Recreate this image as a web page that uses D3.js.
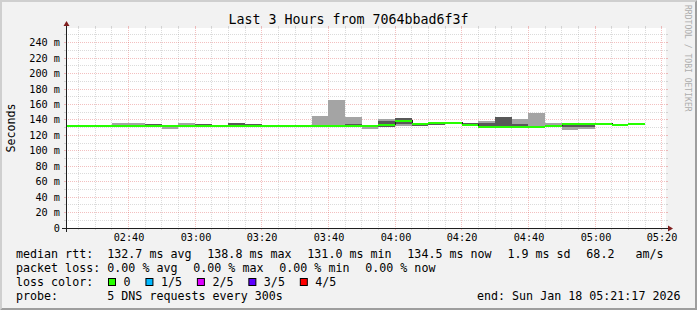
<!DOCTYPE html>
<html><head><meta charset="utf-8">
<script src="https://cdn.jsdelivr.net/npm/d3@7"></script>
<style>
body{margin:0;background:#f2f2f2}
svg{display:block}
text{font-family:"DejaVu Sans Mono",monospace;fill:#000}
</style>
</head><body>
<svg id="c" width="697" height="310"></svg>
<script>
// ---------- data ----------
const stepStarts = ["02:20","02:25","02:30","02:35","02:40","02:45","02:50","02:55","03:00","03:05",
  "03:10","03:15","03:20","03:25","03:30","03:35","03:40","03:45","03:50","03:55",
  "04:00","04:05","04:10","04:15","04:20","04:25","04:30","04:35","04:40","04:45",
  "04:50","04:55","05:00","05:05","05:10"];
// sorted ping round-trip times per 5-min step (ms)
const ping1  = [131.2,131.2,131.2,131.0,131.0,131.2,128.1,131.0,131.2,131.2,
  131.2,131.2,131.2,131.2,131.2,131.0,131.0,131.0,128.2,131.0,
  132.3,131.9,133.0,135.2,131.8,130.8,130.8,130.8,130.8,131.5,
  126.8,128.4,134.0,133.4,133.5];
const ping2  = [131.6,131.6,131.6,131.6,131.6,131.6,131.0,131.6,131.6,131.6,
  131.6,131.6,131.6,131.6,131.6,131.6,131.6,131.6,131.4,131.3,
  135.2,132.4,133.4,135.5,132.4,131.0,131.0,131.0,131.0,131.9,
  131.0,131.0,134.2,133.6,133.8];
const median = [131.9,131.9,131.9,131.9,131.9,131.9,131.6,131.9,131.9,131.9,
  131.9,131.9,131.9,131.9,131.9,131.9,131.9,132.0,132.5,133.9,
  138.7,135.2,135.4,135.8,133.6,131.0,131.0,131.3,131.3,132.3,
  134.9,135.2,134.5,133.9,134.5];
const ping4  = [132.2,132.2,132.2,132.4,132.4,134.5,132.2,132.4,134.5,132.2,
  135.8,134.5,132.2,132.2,132.2,132.6,132.6,134.5,132.8,139.0,
  142.7,135.6,135.8,136.0,136.2,136.2,144.0,134.5,131.8,133.0,
  135.4,135.5,134.8,134.2,136.2];
const ping5  = [132.4,132.4,132.4,135.4,135.4,134.9,132.5,135.8,134.8,132.4,
  136.1,134.8,132.4,132.4,132.4,145.3,165.6,144.0,133.0,141.0,
  143.0,136.0,136.0,136.2,136.4,138.8,144.3,141.0,149.1,135.8,
  135.6,135.8,135.0,134.4,136.4];
const yTicks = [0,20,40,60,80,100,120,140,160,180,200,220,240];
const xTicks = ["02:40","03:00","03:20","03:40","04:00","04:20","04:40","05:00","05:20"];
const lossLabels = ["0","1/5","2/5","3/5","4/5"];
const lossColors = ["#26ff00","#00b8ff","#dd00ff","#5e00ff","#ff0000"];
const rowMedian = ["median rtt:","132.7 ms avg","138.8 ms max","131.0 ms min","134.5 ms now","1.9 ms sd","68.2   am/s"];
const rowLoss = ["packet loss:","0.00 % avg","0.00 % max","0.00 % min","0.00 % now"];
const probeText = ["probe:","5 DNS requests every 300s"];
const endText = "end: Sun Jan 18 05:21:17 2026";
const titleText = "Last 3 Hours from 7064bbad6f3f";
const yLabel = "Seconds";
const watermark = "RRDTOOL / TOBI OETIKER";
const timeStart = "02:21:17", timeEnd = "05:21:17";

// ---------- helpers ----------
const toMin = s => { const p = s.split(":").map(Number); return p[0]*60 + p[1] + (p[2]||0)/60; };
const fmt = m => { const h = Math.floor(m/60), mm = Math.round(m%60); return String(h).padStart(2,"0")+":"+String(mm).padStart(2,"0"); };

const W = 697, H = 310;
const X0 = 66, X1 = 666, Y0 = 228, Y1 = 28;
const x = d3.scaleLinear().domain([toMin(timeStart), toMin(timeEnd)]).range([X0, X1]);
const y = d3.scaleLinear().domain([0, 259]).range([Y0, Y1]);
const snap = v => Math.floor(v) + 0.5;

const svg = d3.select("#c");

// background + 3D frame
svg.append("rect").attr("width", W).attr("height", H).attr("fill", "#f2f2f2");
svg.append("path").attr("fill", "#cfcfcf")
  .attr("d", `M0,${H}L2,${H-2}L2,2L${W-2},2L${W},0L0,0Z`);
svg.append("path").attr("fill", "#9e9e9e")
  .attr("d", `M2,${H-2}L${W-2},${H-2}L${W-2},2L${W},0L${W},${H}L0,${H}Z`);

// canvas
svg.append("rect").attr("x", X0).attr("y", Y1).attr("width", X1 - X0).attr("height", Y0 - Y1).attr("fill", "#fff");

// grid
const grid = svg.append("g");
const minorCol = "#8f8f8f", majorCol = "#de4f4f";
const tStart = toMin(timeStart), tEnd = toMin(timeEnd);
for (let m = Math.ceil(tStart/5)*5; m <= tEnd; m += 5) {
  const major = (m % 20 === 0);
  const xx = snap(x(m));
  const col = major ? majorCol : minorCol, op = major ? 0.36 : 0.32;
  grid.append("line").attr("x1", xx).attr("x2", xx).attr("y1", Y1).attr("y2", Y0)
    .attr("stroke", col).attr("stroke-opacity", op).attr("stroke-dasharray", "1,1");
  grid.append("line").attr("x1", xx).attr("x2", xx).attr("y1", Y1 - 2).attr("y2", Y1)
    .attr("stroke", col).attr("stroke-opacity", op);
  grid.append("line").attr("x1", xx).attr("x2", xx).attr("y1", Y0).attr("y2", Y0 + 2)
    .attr("stroke", col).attr("stroke-opacity", op);
}
for (let v = 10; v <= 250; v += 10) {
  const major = (v % 20 === 0);
  const yy = snap(y(v));
  const col = major ? majorCol : minorCol, op = major ? 0.36 : 0.32;
  grid.append("line").attr("x1", X0).attr("x2", X1).attr("y1", yy).attr("y2", yy)
    .attr("stroke", col).attr("stroke-opacity", op).attr("stroke-dasharray", "1,1");
  grid.append("line").attr("x1", X0 - 2).attr("x2", X0).attr("y1", yy).attr("y2", yy)
    .attr("stroke", col).attr("stroke-opacity", op);
  grid.append("line").attr("x1", X1).attr("x2", X1 + 2).attr("y1", yy).attr("y2", yy)
    .attr("stroke", col).attr("stroke-opacity", op);
}

// data
const data = stepStarts.map((s, i) => ({
  t0: toMin(s), t1: toMin(s) + 5,
  p1: ping1[i], p2: ping2[i], med: median[i], p4: ping4[i], p5: ping5[i]
}));
const clipX = v => Math.max(X0, Math.min(X1, v));
const px0 = d => Math.round(clipX(x(d.t0)));
const px1 = d => Math.round(clipX(x(d.t1)));
const ry = v => Math.round(y(v));

const plot = svg.append("g").attr("shape-rendering", "crispEdges");
// outer smoke (ping1..ping5)
plot.selectAll("rect.s1").data(data).join("rect").attr("class", "s1")
  .attr("x", px0).attr("width", d => px1(d) - px0(d))
  .attr("y", d => ry(d.p5)).attr("height", d => ry(d.p1) - ry(d.p5))
  .attr("fill", "#a4a4a4");
// inner smoke (ping2..ping4)
plot.selectAll("rect.s2").data(data).join("rect").attr("class", "s2")
  .attr("x", px0).attr("width", d => px1(d) - px0(d))
  .attr("y", d => ry(d.p4)).attr("height", d => ry(d.p2) - ry(d.p4))
  .attr("fill", "#585858");

// thin median line (step)
const pts = data.map(d => [px0(d) + 0.5, ry(d.med) - 0.5]);
pts.push([px1(data[data.length - 1]) - 0.5, ry(data[data.length - 1].med) - 0.5]);
plot.append("path").attr("d", d3.line().curve(d3.curveStepAfter)(pts))
  .attr("fill", "none").attr("stroke", "#202020").attr("stroke-width", 1);

// loss-coloured median band (2px)
plot.selectAll("rect.med").data(data).join("rect").attr("class", "med")
  .attr("x", px0).attr("width", d => px1(d) - px0(d))
  .attr("y", d => ry(d.med) - 1).attr("height", 2)
  .attr("fill", lossColors[0]);

// axes
const axisCol = "#1f1f1f";
svg.append("line").attr("x1", X0 - 4).attr("x2", X1 + 4).attr("y1", Y0 + 0.5).attr("y2", Y0 + 0.5)
  .attr("stroke", axisCol).attr("stroke-width", 1);
svg.append("line").attr("x1", X0 + 0.5).attr("x2", X0 + 0.5).attr("y1", Y0 + 4).attr("y2", Y1 - 4)
  .attr("stroke", axisCol).attr("stroke-width", 1);
svg.append("path").attr("fill", "#801f1f")
  .attr("d", `M${X1 + 2},${Y0 - 2.5}L${X1 + 2},${Y0 + 3.5}L${X1 + 7},${Y0 + 0.5}Z`);
svg.append("path").attr("fill", "#801f1f")
  .attr("d", `M${X0 - 2.5},${Y1 - 2}L${X0 + 3.5},${Y1 - 2}L${X0 + 0.5},${Y1 - 7}Z`);

// y axis labels
const yAxis = d3.axisLeft(y).tickValues(yTicks).tickSize(0).tickPadding(0)
  .tickFormat(v => v === 0 ? "0" : v + " m");
const gy = svg.append("g").attr("transform", `translate(60,0)`).call(yAxis);
gy.select(".domain").remove();
gy.selectAll(".tick").attr("transform", d => `translate(0,${snap(y(d))})`);
gy.selectAll("text").attr("font-family", "DejaVu Sans Mono").attr("font-size", 10.2)
  .attr("fill", "#000").attr("x", 0).attr("dy", "0.36em");

// x axis labels
const xAxis = d3.axisBottom(x).tickValues(xTicks.map(toMin)).tickSize(0).tickPadding(0).tickFormat(fmt);
const gx = svg.append("g").attr("transform", `translate(0,241)`).call(xAxis);
gx.select(".domain").remove();
gx.selectAll(".tick").attr("transform", d => `translate(${snap(x(d)) + 0.5},0)`);
gx.selectAll("text").attr("font-family", "DejaVu Sans Mono").attr("font-size", 10.2)
  .attr("fill", "#000").attr("y", 0).attr("dy", 0);

// title
svg.append("text").attr("x", W / 2).attr("y", 24).attr("text-anchor", "middle")
  .attr("font-size", 13.3).text(titleText);

// y label
svg.append("text").attr("transform", `translate(14.5,128) rotate(-90)`).attr("text-anchor", "middle")
  .attr("font-size", 11.66).text(yLabel);

// watermark
svg.append("text").attr("transform", `translate(684.5,5) rotate(90)`).attr("font-size", 8.05)
  .style("fill", "#adadad").text(watermark);

// legend
const LF = 11.66, GAP = 15.8;
const rowY = [258.3, 272.2, 286.0, 299.9];
function textRow(items, yy) {
  let xx = 16;
  items.forEach((s, i) => {
    if (i === 1) xx = 107.3;
    const t = svg.append("text").attr("x", xx).attr("y", yy).attr("font-size", LF)
      .attr("xml:space", "preserve").style("white-space", "pre").text(s);
    xx += t.node().getComputedTextLength() + GAP;
  });
}
textRow(rowMedian, rowY[0]);
textRow(rowLoss, rowY[1]);
svg.append("text").attr("x", 16).attr("y", rowY[2]).attr("font-size", LF).text("loss color:");
{
  let xx = 108.5;
  lossLabels.forEach((lab, i) => {
    svg.append("rect").attr("x", xx).attr("y", rowY[2] - 7.5).attr("width", 7).attr("height", 7)
      .attr("fill", lossColors[i]).attr("stroke", "#000").attr("stroke-width", 1);
    const t = svg.append("text").attr("x", xx + 15).attr("y", rowY[2]).attr("font-size", LF).text(lab);
    xx = xx + 15 + t.node().getComputedTextLength() + 15.4;
  });
}
textRow(probeText, rowY[3]);
svg.append("text").attr("x", 680.5).attr("y", rowY[3]).attr("text-anchor", "end")
  .attr("font-size", LF).text(endText);
</script>
</body></html>
